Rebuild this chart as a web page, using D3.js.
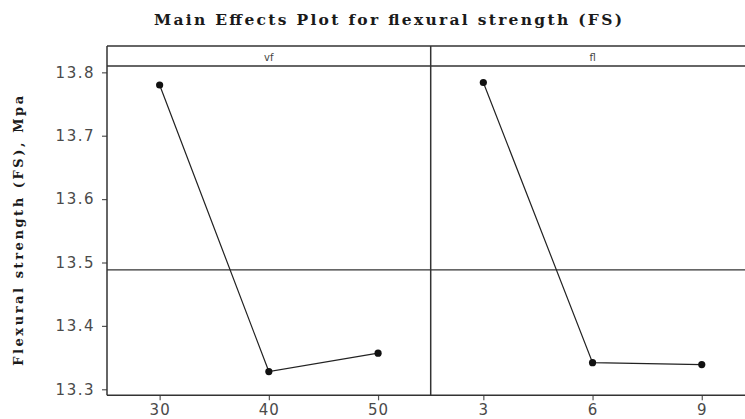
<!DOCTYPE html>
<html>
<head>
<meta charset="utf-8">
<script src="https://cdn.jsdelivr.net/npm/d3@7"></script>
<style>
  body { margin: 0; background: #fff; }
  svg { display: block; }
</style>
</head>
<body>
<div id="chart"></div>
<script>
// factor levels and mean FS per level
var factors = ["vf", "fl"];
var vfLevels = ["30", "40", "50"];
var vfMeans = [13.780, 13.328, 13.357];
var flLevels = ["3", "6", "9"];
var flMeans = [13.784, 13.342, 13.339];
var yTicks = [13.3, 13.4, 13.5, 13.6, 13.7, 13.8];

var width = 745, height = 419;
var frameLeft = 107, frameTop = 46, stripH = 20, frameBottom = 395.3, panelW = 323.7;
var ink = "#333";

var svg = d3.select("#chart").append("svg")
  .attr("width", width)
  .attr("height", height);

var y = d3.scaleLinear()
  .domain([13.2905, 13.81])
  .range([frameBottom, frameTop + stripH]);

var grand = d3.mean(vfMeans.concat(flMeans));

// title
svg.append("text")
  .attr("x", 388)
  .attr("y", 25)
  .attr("text-anchor", "middle")
  .attr("textLength", 468)
  .attr("lengthAdjust", "spacing")
  .style("font-family", "'DejaVu Serif', serif")
  .style("font-weight", "bold")
  .style("font-size", "15.5px")
  .style("fill", "#1a1a1a")
  .text("Main Effects Plot for flexural strength (FS)");

// y label
svg.append("text")
  .attr("transform", "translate(23," + y(13.55) + ") rotate(-90)")
  .attr("text-anchor", "middle")
  .attr("textLength", 270)
  .attr("lengthAdjust", "spacing")
  .style("font-family", "'DejaVu Serif', serif")
  .style("font-weight", "bold")
  .style("font-size", "13px")
  .style("fill", "#1a1a1a")
  .text("Flexural strength (FS), Mpa");

// y axis
var yAxis = d3.axisLeft(y)
  .tickValues(yTicks)
  .tickSize(5)
  .tickPadding(7)
  .tickFormat(d3.format(".1f"));
var ya = svg.append("g")
  .attr("transform", "translate(" + frameLeft + ",0)")
  .call(yAxis);
ya.select(".domain").remove();
ya.selectAll("line").attr("stroke", "#555").attr("stroke-width", 1.2);
ya.selectAll("text")
  .style("font-family", "'DejaVu Sans', sans-serif")
  .style("font-size", "15px")
  .style("letter-spacing", "1.5px")
  .style("fill", "#4a4a4a");

var panels = [
  { name: factors[0], levels: vfLevels, means: vfMeans },
  { name: factors[1], levels: flLevels, means: flMeans }
];

panels.forEach(function (p, i) {
  var x0 = frameLeft + i * panelW;
  var x = d3.scalePoint()
    .domain(p.levels)
    .range([x0, x0 + panelW])
    .padding(0.482);

  var g = svg.append("g");

  // x axis
  var xa = g.append("g")
    .attr("transform", "translate(0," + frameBottom + ")")
    .call(d3.axisBottom(x).tickSize(5).tickPadding(4));
  xa.select(".domain").remove();
  xa.selectAll("line").attr("stroke", "#555").attr("stroke-width", 1.2);
  xa.selectAll("text")
    .style("font-family", "'DejaVu Sans', sans-serif")
    .style("font-size", "15px")
    .style("letter-spacing", "1px")
    .style("fill", "#4a4a4a");

  // reference line at grand mean
  g.append("line")
    .attr("x1", x0).attr("x2", x0 + panelW)
    .attr("y1", y(grand)).attr("y2", y(grand))
    .attr("stroke", ink).attr("stroke-width", 1.3);

  // strip label
  g.append("text")
    .attr("x", x0 + panelW / 2)
    .attr("y", frameTop + 15)
    .attr("text-anchor", "middle")
    .style("font-family", "'DejaVu Sans', sans-serif")
    .style("font-size", "10px")
    .style("fill", "#444")
    .text(p.name);

  var pts = p.levels.map(function (l, j) { return [l, p.means[j]]; });

  g.append("path")
    .datum(pts)
    .attr("fill", "none")
    .attr("stroke", "#222")
    .attr("stroke-width", 1.2)
    .attr("d", d3.line()
      .x(function (d) { return x(d[0]); })
      .y(function (d) { return y(d[1]); }));

  g.selectAll("circle")
    .data(pts)
    .enter().append("circle")
    .attr("cx", function (d) { return x(d[0]); })
    .attr("cy", function (d) { return y(d[1]); })
    .attr("r", 3.6)
    .attr("fill", "#111");
});

// frame
var frame = svg.append("g")
  .attr("fill", "none")
  .attr("stroke", ink)
  .attr("stroke-width", 1.5);
frame.append("line").attr("x1", frameLeft).attr("x2", frameLeft + 2 * panelW)
  .attr("y1", frameTop).attr("y2", frameTop);
frame.append("line").attr("x1", frameLeft).attr("x2", frameLeft + 2 * panelW)
  .attr("y1", frameTop + stripH).attr("y2", frameTop + stripH);
frame.append("line").attr("x1", frameLeft).attr("x2", frameLeft + 2 * panelW)
  .attr("y1", frameBottom).attr("y2", frameBottom);
frame.append("line").attr("x1", frameLeft).attr("x2", frameLeft)
  .attr("y1", frameTop).attr("y2", frameBottom);
frame.append("line").attr("x1", frameLeft + panelW).attr("x2", frameLeft + panelW)
  .attr("y1", frameTop).attr("y2", frameBottom);
</script>
</body>
</html>
